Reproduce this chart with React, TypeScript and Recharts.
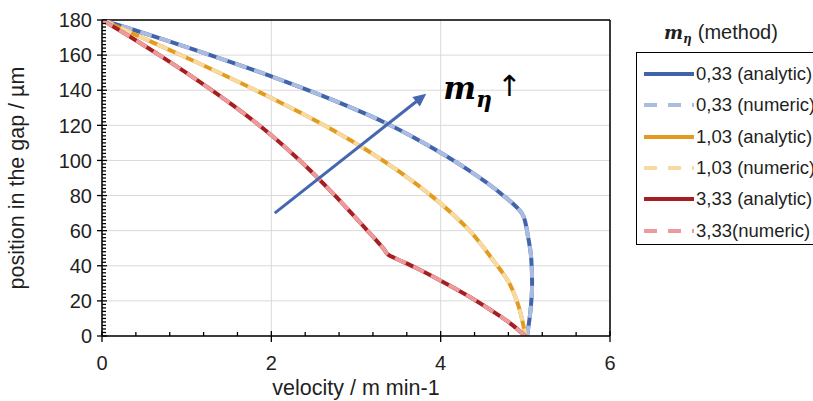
import React from 'react';
import { LineChart, Line, XAxis, YAxis, CartesianGrid, ReferenceLine } from 'recharts';

type P = { x: number; y: number };

// m_eta = 0,33
const blueAnalytic: P[] = [
  { x: 0, y: 180 }, { x: 0.36, y: 174.6 }, { x: 0.75, y: 168.5 }, { x: 1.15, y: 162.1 },
  { x: 1.54, y: 155.7 }, { x: 2.0, y: 147.9 }, { x: 2.34, y: 141.8 }, { x: 2.73, y: 134.4 },
  { x: 3.13, y: 126.2 }, { x: 3.41, y: 119.9 }, { x: 3.72, y: 112.1 }, { x: 4.0, y: 104.4 },
  { x: 4.32, y: 94.8 }, { x: 4.71, y: 81.2 }, { x: 4.97, y: 69 }, { x: 5.03, y: 57 },
  { x: 5.07, y: 44 }, { x: 5.08, y: 30 }, { x: 5.06, y: 14 }, { x: 5.02, y: 0 },
];
const blueNumeric: P[] = [
  { x: 0, y: 180 }, { x: 0.36, y: 174.6 }, { x: 0.75, y: 168.5 }, { x: 1.15, y: 162.1 },
  { x: 1.54, y: 155.7 }, { x: 2.0, y: 147.9 }, { x: 2.34, y: 141.8 }, { x: 2.73, y: 134.4 },
  { x: 3.13, y: 126.2 }, { x: 3.41, y: 119.9 }, { x: 3.72, y: 112.1 }, { x: 4.0, y: 104.4 },
  { x: 4.32, y: 94.8 }, { x: 4.71, y: 81.2 }, { x: 4.97, y: 69 }, { x: 5.03, y: 57 },
  { x: 5.07, y: 44 }, { x: 5.08, y: 30 }, { x: 5.06, y: 14 }, { x: 5.02, y: 0 },
];
// m_eta = 1,03
const orangeAnalytic: P[] = [
  { x: 0, y: 180 }, { x: 0.36, y: 172.4 }, { x: 0.75, y: 164 }, { x: 1.15, y: 155.2 },
  { x: 1.54, y: 146.4 }, { x: 2.0, y: 135.6 }, { x: 2.34, y: 127.3 }, { x: 2.73, y: 117.2 },
  { x: 3.13, y: 105.8 }, { x: 3.52, y: 93.3 }, { x: 3.92, y: 78.7 }, { x: 4.32, y: 61.1 },
  { x: 4.63, y: 42.5 }, { x: 4.8, y: 31 }, { x: 4.92, y: 17 }, { x: 5.0, y: 0 },
];
const orangeNumeric: P[] = [
  { x: 0, y: 180 }, { x: 0.36, y: 172.4 }, { x: 0.75, y: 164 }, { x: 1.15, y: 155.2 },
  { x: 1.54, y: 146.4 }, { x: 2.0, y: 135.6 }, { x: 2.34, y: 127.3 }, { x: 2.73, y: 117.2 },
  { x: 3.13, y: 105.8 }, { x: 3.52, y: 93.3 }, { x: 3.92, y: 78.7 }, { x: 4.32, y: 61.1 },
  { x: 4.63, y: 42.5 }, { x: 4.8, y: 31 }, { x: 4.92, y: 17 }, { x: 5.0, y: 0 },
];
// m_eta = 3,33
const redAnalytic: P[] = [
  { x: 0, y: 180 }, { x: 0.36, y: 169.6 }, { x: 0.75, y: 157.7 }, { x: 1.15, y: 144.9 },
  { x: 1.54, y: 131.6 }, { x: 2.0, y: 114.4 }, { x: 2.34, y: 99.8 }, { x: 2.73, y: 81.1 },
  { x: 3.05, y: 64.5 }, { x: 3.33, y: 49.5 }, { x: 3.39, y: 46 }, { x: 3.45, y: 44.6 },
  { x: 3.7, y: 39 }, { x: 4.0, y: 31.5 }, { x: 4.3, y: 23.5 }, { x: 4.6, y: 14.5 },
  { x: 4.8, y: 8 }, { x: 5.0, y: 0 },
];
const redNumeric: P[] = [
  { x: 0, y: 180 }, { x: 0.36, y: 169.6 }, { x: 0.75, y: 157.7 }, { x: 1.15, y: 144.9 },
  { x: 1.54, y: 131.6 }, { x: 2.0, y: 114.4 }, { x: 2.34, y: 99.8 }, { x: 2.73, y: 81.1 },
  { x: 3.05, y: 64.5 }, { x: 3.33, y: 49.5 }, { x: 3.39, y: 46 }, { x: 3.45, y: 44.6 },
  { x: 3.7, y: 39 }, { x: 4.0, y: 31.5 }, { x: 4.3, y: 23.5 }, { x: 4.6, y: 14.5 },
  { x: 4.8, y: 8 }, { x: 5.0, y: 0 },
];

const xMajor = [0, 2, 4, 6];
const yMajor = [0, 20, 40, 60, 80, 100, 120, 140, 160, 180];
const xMinorStep = 0.4;
const yMinorStep = 2;
const xTicks = Array.from({ length: 16 }, (_, i) => Math.round(i * xMinorStep * 10) / 10);
const yTicks = Array.from({ length: 91 }, (_, i) => i * yMinorStep);

const arrowStart = { x: 2.04, y: 70 };
const arrowEnd = { x: 3.83, y: 138 };

const legendTitle = '(method)';

type Series = { name: string; data: P[]; color: string; dashed: boolean };
const series: Series[] = [
  { name: '0,33 (analytic)', data: blueAnalytic, color: '#4063AC', dashed: false },
  { name: '0,33 (numeric)', data: blueNumeric, color: '#AABCE0', dashed: true },
  { name: '1,03 (analytic)', data: orangeAnalytic, color: '#E39B1E', dashed: false },
  { name: '1,03 (numeric)', data: orangeNumeric, color: '#F7D9A2', dashed: true },
  { name: '3,33 (analytic)', data: redAnalytic, color: '#A41E22', dashed: false },
  { name: '3,33(numeric)', data: redNumeric, color: '#EC9A9C', dashed: true },
];

const FONT = '"Liberation Sans", Arial, sans-serif';
const TXT = '#1f1f1f';

const YTick = (props: any) => {
  const { x, y, payload } = props;
  const v = payload.value as number;
  const major = yMajor.some((m) => Math.abs(m - v) < 1e-6);
  return (
    <g>
      <line x1={major ? x - 5 : x} x2={major ? x + 5 : x + 4} y1={y} y2={y} stroke="#000" strokeWidth={1.3} />
      {major && (
        <text x={x - 10} y={y} dy="0.36em" textAnchor="end" fontSize={20} fill={TXT} fontFamily={FONT}>
          {v}
        </text>
      )}
    </g>
  );
};

const XTick = (props: any) => {
  const { x, y, payload } = props;
  const v = payload.value as number;
  const major = xMajor.some((m) => Math.abs(m - v) < 1e-6);
  return (
    <g>
      <line x1={x} x2={x} y1={major ? y - 5 : y - 4} y2={major ? y + 6 : y} stroke="#000" strokeWidth={1.3} />
      {major && (
        <text x={x} y={y + 27} dy="0.36em" textAnchor="middle" fontSize={20} fill={TXT} fontFamily={FONT}>
          {v}
        </text>
      )}
    </g>
  );
};

const ArrowShape = (props: any) => {
  const { x1, y1, x2, y2 } = props;
  if (![x1, y1, x2, y2].every((n) => typeof n === 'number')) return null;
  const ang = Math.atan2(y2 - y1, x2 - x1);
  const len = 13;
  const half = 6;
  const bx = x2 - len * Math.cos(ang);
  const by = y2 - len * Math.sin(ang);
  const px = -Math.sin(ang);
  const py = Math.cos(ang);
  const pts = `${x2},${y2} ${bx + px * half},${by + py * half} ${bx - px * half},${by - py * half}`;
  return (
    <g>
      <line x1={x1} y1={y1} x2={bx + 2 * Math.cos(ang)} y2={by + 2 * Math.sin(ang)} stroke="#4567B0" strokeWidth={3} />
      <polygon points={pts} fill="#4567B0" />
      <text x={x2 + 17} y={y2 + 5} fontFamily='"DejaVu Serif", serif' fontWeight="bold" fontStyle="italic" fontSize={31} fill="#000">
        m
        <tspan fontSize={22} dy={8}>η</tspan>
      </text>
      <text x={x2 + 71} y={y2 + 2} fontFamily='"DejaVu Sans", sans-serif' fontSize={29} fill="#000">
        ↑
      </text>
    </g>
  );
};

const LegendBox = () => (
  <div style={{ position: 'absolute', left: 636, top: 14, width: 200, fontFamily: FONT, color: TXT }}>
    <div style={{ position: 'absolute', left: 28, top: 4, whiteSpace: 'nowrap', fontSize: 20, lineHeight: '28px' }}>
      <span style={{ fontFamily: '"DejaVu Serif", serif', fontWeight: 'bold', fontStyle: 'italic', fontSize: 18 }}>
        m<sub style={{ fontSize: 12, verticalAlign: '-4px' }}>η</sub>
      </span>
      <span style={{ marginLeft: 6 }}>{legendTitle}</span>
    </div>
    <div
      style={{
        position: 'absolute',
        left: 0,
        top: 38,
        width: 200,
        height: 193,
        border: '1.5px solid #000',
        boxSizing: 'border-box',
      }}
    >
      {series.map((s, i) => (
        <div key={s.name} style={{ position: 'absolute', left: 6, top: 8 + i * 31.3, height: 26, display: 'flex', alignItems: 'center', whiteSpace: 'nowrap' }}>
          <svg width={52} height={8} style={{ display: 'block' }}>
            <line x1={1} x2={51} y1={4} y2={4} stroke={s.color} strokeWidth={4} strokeDasharray={s.dashed ? '13 11' : undefined} />
          </svg>
          <span style={{ fontSize: 18.5, marginLeft: 1 }}>{s.name}</span>
        </div>
      ))}
    </div>
  </div>
);

export default function App() {
  return (
    <div style={{ position: 'absolute', left: 0, top: 0, width: 813, height: 401, background: '#fff', overflow: 'hidden' }}>
      <LineChart width={813} height={401} margin={{ top: 20, right: 203, bottom: 0, left: 0 }}>
        <CartesianGrid
          stroke="#D9D9D9"
          strokeWidth={1}
          horizontalValues={yMajor}
          verticalValues={xMajor}
        />
        <XAxis
          type="number"
          dataKey="x"
          domain={[0, 6]}
          ticks={xTicks}
          interval={0}
          tickSize={0}
          tickMargin={0}
          tickLine={false}
          tick={<XTick />}
          axisLine={{ stroke: '#000', strokeWidth: 1.5 }}
          height={65}
          allowDataOverflow
          label={{ value: 'velocity / m min-1', position: 'insideBottom', offset: 6, fontSize: 21.5, fill: TXT, fontFamily: FONT }}
        />
        <YAxis
          type="number"
          dataKey="y"
          domain={[0, 180]}
          ticks={yTicks}
          interval={0}
          tickSize={0}
          tickMargin={0}
          tickLine={false}
          tick={<YTick />}
          axisLine={{ stroke: '#000', strokeWidth: 1.5 }}
          width={102}
          allowDataOverflow
          label={{ value: 'position in the gap / µm', angle: -90, position: 'insideLeft', offset: 16, fontSize: 21.5, fill: TXT, fontFamily: FONT, style: { textAnchor: 'middle' } }}
        />
        <ReferenceLine y={180} stroke="#000" strokeWidth={1.5} />
        <ReferenceLine x={6} stroke="#000" strokeWidth={1.5} />
        {series.map((s) => (
          <Line
            key={s.name}
            data={s.data}
            dataKey="y"
            name={s.name}
            type="monotoneY"
            stroke={s.color}
            strokeWidth={4}
            strokeDasharray={s.dashed ? '12 8' : undefined}
            dot={false}
            activeDot={false}
            isAnimationActive={false}
          />
        ))}
        <ReferenceLine segment={[arrowStart, arrowEnd]} shape={<ArrowShape />} />
      </LineChart>
      <LegendBox />
    </div>
  );
}
